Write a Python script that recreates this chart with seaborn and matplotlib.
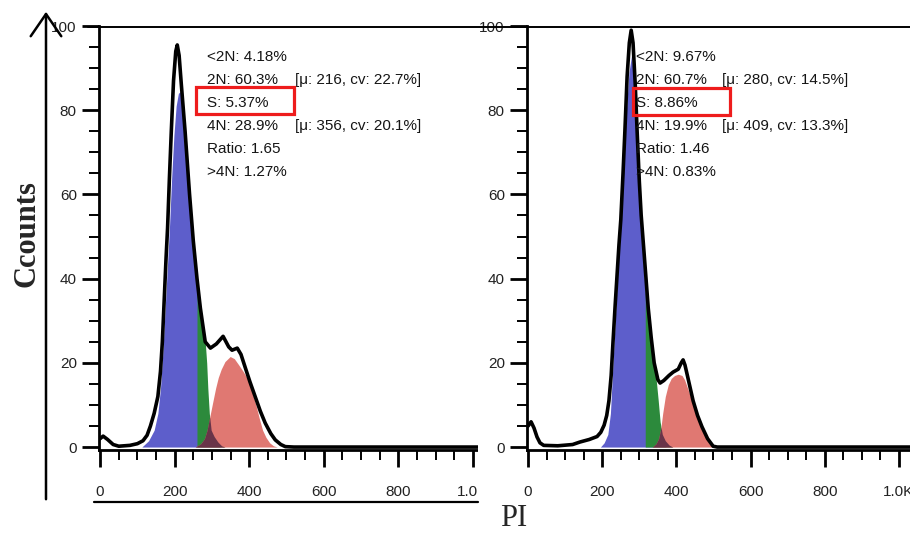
import numpy as np
import pandas as pd
import seaborn as sns
import matplotlib.pyplot as plt
from matplotlib.patches import Rectangle, FancyArrowPatch
from matplotlib.lines import Line2D
from matplotlib.ticker import MultipleLocator

sns.set_style("ticks")
plt.rcParams['font.family'] = ['Liberation Sans', 'DejaVu Sans']

# ---------------- Panel A: histogram and fitted cell-cycle components -------------
a_pi = [0, 8, 20, 35, 50, 80, 100, 115, 126, 135, 145, 155, 162, 167, 172, 177, 181,
        186, 191, 197, 203, 207, 212, 218, 228, 240, 250, 260, 269, 282, 296, 312, 330,
        345, 354, 368, 378, 389, 402, 416, 430, 443, 458, 470, 485, 497, 520, 1020]
a_counts = [2.0, 2.6, 1.8, 0.6, 0.2, 0.4, 0.8, 1.5, 2.8, 5, 8, 12, 18, 25, 35, 45, 52,
            64, 75, 87, 94, 95.5, 93, 86, 75, 60, 49, 40, 33, 25, 23.5, 24.5, 26.3,
            23.8, 23, 23.5, 22, 19, 15.5, 12, 8.5, 5.7, 3.2, 1.7, 0.6, 0.1, 0, 0]

a_g1_pi = [112, 130, 145, 155, 162, 168, 174, 180, 186, 192, 198, 204, 210, 216, 222,
           228, 235, 242, 250, 256, 262, 270, 280, 290, 300, 312, 325]
a_g1 = [0, 1.5, 4, 8, 14, 22, 32, 42, 52, 64, 74, 81, 84, 84.5, 82, 74, 64, 56, 49,
        43, 35, 24, 12, 5, 2, 0.5, 0]

a_s_pi = [259.9, 260, 266, 272, 277, 282, 286, 289, 293, 298, 306, 316, 326, 335]
a_s = [0, 40, 36, 32, 28, 25, 20, 14, 8, 4, 2.5, 1.2, 0.3, 0]

a_g2_pi = [255, 270, 280, 287, 295, 303, 310, 317, 325, 335, 349, 360, 372, 385, 397,
           408, 418, 428, 436, 445, 455, 465, 475]
a_g2 = [0, 0.8, 2, 4, 7.5, 11, 14, 16.5, 18.5, 20.3, 21.5, 21, 19.5, 17.8, 16, 13, 10,
        6.5, 4, 2.3, 1, 0.3, 0]

a_stats = ["<2N: 4.18%", "2N: 60.3%", "S: 5.37%", "4N: 28.9%", "Ratio: 1.65", ">4N: 1.27%"]
a_fits = ["", "[\u03bc: 216, cv: 22.7%]", "", "[\u03bc: 356, cv: 20.1%]", "", ""]

# ---------------- Panel B ----------------------------------------------------------
b_pi = [0, 8, 16, 24, 32, 42, 80, 120, 140, 165, 186, 196, 205, 212, 218, 224, 229,
        235, 240, 245, 250, 256, 261, 267, 273, 278, 283, 289, 294, 300, 305, 312, 318,
        324, 332, 340, 350, 356, 366, 380, 391, 405, 413, 418, 423, 428, 436, 445, 457,
        469, 484, 499, 510, 1030]
b_counts = [5.0, 6, 4.5, 2.4, 1.0, 0.4, 0.3, 0.6, 1.2, 1.8, 2.5, 3.5, 5.2, 7.5, 11, 17,
            25, 34, 41, 48, 54, 65, 75, 88, 96, 99, 96, 86, 75, 63, 55, 47, 40, 33, 26,
            20, 16, 15.2, 15.8, 17, 17.8, 18.5, 20, 20.7, 19.5, 17.6, 14.5, 11, 7.5,
            4.8, 2, 0.2, 0, 0]

b_g1_pi = [195, 205, 215, 222, 229, 236, 243, 250, 258, 265, 272, 279, 286, 293, 300,
           306, 312, 316, 322, 330, 340, 350, 360, 372]
b_g1 = [0, 1, 3, 8, 20, 32, 44, 55, 68, 80, 89, 93, 86, 72, 60, 50, 42, 37, 30, 20,
        10, 4, 1.2, 0]

b_s_pi = [315.9, 316, 322, 328, 334, 340, 346, 351, 356, 362, 370, 380, 390]
b_s = [0, 40, 35, 30, 25, 20, 15.5, 11, 6, 3, 1.5, 0.5, 0]

b_g2_pi = [335, 345, 352, 358, 363, 370, 378, 386, 395, 405, 415, 422, 430, 440, 450,
           460, 470, 480, 490, 500, 508]
b_g2 = [0, 0.8, 2, 4.5, 8, 12, 14.8, 16.3, 17, 17.3, 17, 16, 14, 11.5, 9, 6.5, 4.3,
        2.5, 1, 0.2, 0]

b_stats = ["<2N: 9.67%", "2N: 60.7%", "S: 8.86%", "4N: 19.9%", "Ratio: 1.46", ">4N: 0.83%"]
b_fits = ["", "[\u03bc: 280, cv: 14.5%]", "", "[\u03bc: 409, cv: 13.3%]", "", ""]

x_ticks = [0, 200, 400, 600, 800, 1000]
x_ticklabels = ["0", "200", "400", "600", "800", "1.0K"]
y_ticks = [0, 20, 40, 60, 80, 100]

G1_COLOR = "#5d5ecb"
S_COLOR = "#2c8a3c"
G2_COLOR = "#e07872"
OVERLAP_COLOR = "#5c2d45"

W, H = 910, 535
fig = plt.figure(figsize=(W / 100, H / 100), dpi=100)
fig.patch.set_facecolor("white")


def fx(px):
    return px / W


def fy(py):
    return 1 - py / H


def draw_panel(ax, pi, counts, g1_pi, g1, s_pi, s, g2_pi, g2, xmax):
    ax.fill_between(g1_pi, g1, color=G1_COLOR, lw=0, zorder=1)
    ax.fill_between(s_pi, s, color=S_COLOR, lw=0, zorder=2)
    ax.fill_between(g2_pi, g2, color=G2_COLOR, lw=0, zorder=3)
    # region where the G2 fit sits under the G1/S fits
    grid = np.linspace(0, 600, 1201)
    under = np.maximum(np.interp(grid, g1_pi, g1), np.interp(grid, s_pi, s))
    ovl = np.minimum(under, np.interp(grid, g2_pi, g2))
    ax.fill_between(grid, ovl, color=OVERLAP_COLOR, lw=0, zorder=4, alpha=0.9)

    df = pd.DataFrame({"PI": pi, "Count": counts})
    sns.lineplot(data=df, x="PI", y="Count", ax=ax, color="black", lw=2.6,
                 sort=False, estimator=None, zorder=5)

    ax.set_xticks(x_ticks)
    ax.set_xticklabels(x_ticklabels)
    ax.set_yticks(y_ticks)
    ax.xaxis.set_minor_locator(MultipleLocator(50))
    ax.yaxis.set_minor_locator(MultipleLocator(5))
    ax.set_xlim(-3, xmax)
    ax.set_ylim(-0.7, 100)
    ax.tick_params(axis="both", which="major", length=12, width=2.0, color="black",
                   labelsize=11, labelcolor="#222222", direction="out")
    ax.tick_params(axis="both", which="minor", length=7, width=1.4, color="black",
                   direction="out")
    ax.tick_params(axis="x", which="major", pad=13)
    ax.tick_params(axis="y", which="major", pad=4)
    ax.set_xlabel("")
    ax.set_ylabel("")
    for side in ("top", "right"):
        ax.spines[side].set_visible(False)
    for side in ("left", "bottom"):
        ax.spines[side].set_linewidth(2.0)
        ax.spines[side].set_color("black")
    ax.set_facecolor("white")


ax1 = fig.add_axes([fx(99), fy(450), fx(478) - fx(99), fy(26) - fy(450)])
ax2 = fig.add_axes([fx(527), fy(450), fx(910) - fx(527), fy(26) - fy(450)])
ax1.set_zorder(0)
ax2.set_zorder(2)

draw_panel(ax1, a_pi, a_counts, a_g1_pi, a_g1, a_s_pi, a_s, a_g2_pi, a_g2, 1014)
draw_panel(ax2, b_pi, b_counts, b_g1_pi, b_g1, b_s_pi, b_s, b_g2_pi, b_g2, 1030)

# white strip where the second panel sits over the edge of the first one
fig.add_artist(Rectangle((fx(478), 0), fx(527) - fx(478), fy(29),
                         transform=fig.transFigure, facecolor="white",
                         edgecolor="none", zorder=1))

# frame lines
fig.add_artist(Line2D([fx(88), fx(910)], [fy(27), fy(27)], transform=fig.transFigure,
                      color="black", lw=1.4, zorder=3))
fig.add_artist(Line2D([fx(94), fx(478)], [fy(502), fy(502)], transform=fig.transFigure,
                      color="black", lw=1.6, zorder=3))

# statistics text blocks
line_y = [57, 80, 103, 126, 149, 172]
for x0, x1, stats, fits in ((207, 295, a_stats, a_fits), (636, 722, b_stats, b_fits)):
    for yy, st, ft in zip(line_y, stats, fits):
        fig.text(fx(x0), fy(yy), st, fontsize=11, color="#151515", ha="left",
                 va="center", zorder=6)
        if ft:
            fig.text(fx(x1), fy(yy), ft, fontsize=11, color="#151515", ha="left",
                     va="center", zorder=6)

# highlight boxes around the S-phase values
for (l, t, r, b) in ((196, 87, 294, 114), (633, 88, 730, 115)):
    fig.add_artist(Rectangle((fx(l), fy(b)), fx(r) - fx(l), fy(t) - fy(b),
                             transform=fig.transFigure, fill=False,
                             edgecolor="#ee1c1c", lw=2.3, zorder=7))

# vertical axis arrow and axis titles
fig.add_artist(FancyArrowPatch((fx(46), fy(502)), (fx(46), fy(9)),
                               transform=fig.transFigure,
                               arrowstyle="->,head_length=0.8,head_width=0.55",
                               mutation_scale=20, color="black", lw=1.8, zorder=3))
fig.text(fx(27), fy(234), "Ccounts", rotation=90, ha="center", va="center",
         fontsize=22, fontweight="bold", family=["Liberation Serif", "DejaVu Serif"])
fig.text(fx(514), fy(518), "PI", ha="center", va="center", fontsize=22,
         family=["Liberation Serif", "DejaVu Serif"], zorder=5)

fig.savefig("out.png", dpi=100, facecolor="white")
